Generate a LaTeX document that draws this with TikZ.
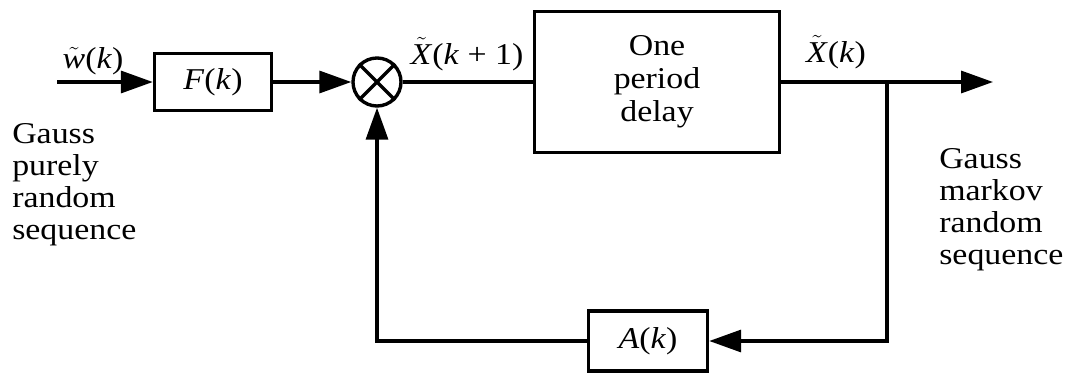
\documentclass[tikz,border=0pt]{standalone}
\usepackage{fontspec}
\setmainfont{Liberation Serif}[FakeStretch=1.12]
\usetikzlibrary{arrows.meta, positioning, calc}
\newcommand{\tld}[1]{$\tilde{\mbox{\textit{#1}}}$}
\tikzset{
  blk/.style={rectangle, draw=black, line width=2.4pt, align=center, font=\fontsize{21.5}{23.5}\selectfont},
  sumnode/.style={circle, draw=black, line width=2.4pt, minimum size=1.2cm, inner sep=0pt},
  sig/.style={line width=2.4pt},
  arr/.style={-{Triangle[length=0.8cm, width=0.55cm]}, line width=2.4pt},
  lbl/.style={font=\fontsize{21.5}{23.5}\selectfont, inner sep=0pt, anchor=base},
  note/.style={font=\fontsize{21.5}{22.8}\selectfont, align=left, inner sep=0pt, anchor=north west},
}

\begin{document}
\begin{tikzpicture}[x=0.025cm, y=-0.025cm]
  \useasboundingbox (0,0) rectangle (1069,375);
  % blocks
  \node[blk, minimum width=2.925cm, minimum height=1.425cm] (F) at (213,82) {\textit{F}(\textit{k})};
  \node[sumnode] (sum) at (377,82) {};
  \node[blk, minimum width=6.125cm, minimum height=3.525cm] (delay) at (657,82) {One\\period\\delay};
  \node[blk, minimum width=2.975cm, minimum height=1.5cm] (A) at (648,341) {\textit{A}(\textit{k})};
  \coordinate (in) at (57,82);
  \coordinate (out) at (993,82);
  \coordinate (split) at (887,82);
  % signals
  \draw[arr] (in) -- (F);
  \draw[arr] (F) -- (sum);
  \draw[sig] (sum) -- (delay);
  \draw[arr] (delay) -- (out);
  \draw[arr] (split) |- (A);
  \draw[arr] (A) -| (sum);
  \draw[sig] (sum.north west) -- (sum.south east) (sum.north east) -- (sum.south west);
  % labels
  \node[lbl] (wlbl) at (93,68) {\tld{w}(\textit{k})};
  \node[lbl] (xnext) at (467,64) {\tld{X}(\textit{k} + 1)};
  \node[lbl] (xnow) at (836,62) {\tld{X}(\textit{k})};
  \node[note] (gin) at (12,123) {Gauss\\purely\\random\\sequence};
  \node[note] (gout) at (939,148) {Gauss\\markov\\random\\sequence};
\end{tikzpicture}
\end{document}
